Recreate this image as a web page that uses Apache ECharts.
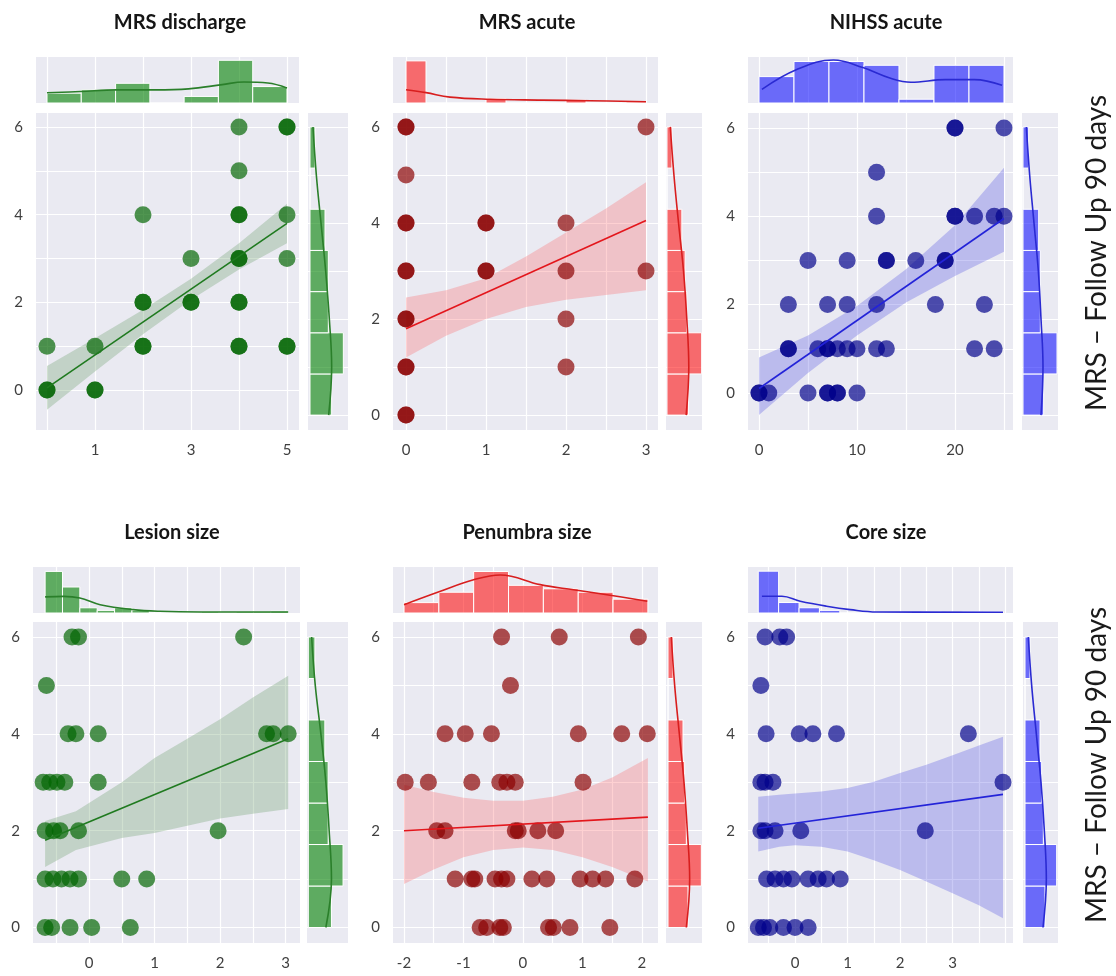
<!DOCTYPE html>
<html>
<head>
<meta charset="utf-8">
<script src="https://cdn.jsdelivr.net/npm/echarts@6/dist/echarts.min.js"></script>
<style>
  html, body { margin: 0; padding: 0; background: #ffffff; }
  #chart { width: 1116px; height: 976px; }
</style>
</head>
<body>
<div id="chart"></div>
<script>
// ---------- MRS follow-up (90 days) marginal bins, shared by every panel ----------
const followUpEdges = [0, 0.857, 1.714, 2.571, 3.429, 4.286, 5.143, 6];
const followUpKdeY = [6, 5, 4, 3, 2, 1, 0];
const yTickLabels = [0, 2, 4, 6];
const yGridValues = [0, 1, 2, 3, 4, 5, 6];

// ---------- MRS discharge ----------
const dischargeX = [0, 0, 0, 1, 1, 1, 2, 2, 2, 2, 2, 3, 3, 3, 4, 4, 4, 4, 4, 4, 4, 4, 4, 4, 5, 5, 5, 5, 5, 5];
const dischargeY = [1, 0, 0, 1, 0, 0, 4, 2, 2, 1, 1, 3, 2, 2, 6, 5, 4, 4, 3, 3, 2, 2, 1, 1, 6, 6, 4, 3, 1, 1];
const dischargeFitX = [0, 5];
const dischargeFitY = [0.05, 3.8];
const dischargeBandX = [0, 1, 2, 3, 4, 5];
const dischargeBandLow = [-0.45, 0.42, 1.27, 2.06, 2.75, 3.35];
const dischargeBandHigh = [0.55, 1.18, 1.83, 2.54, 3.35, 4.25];
const dischargeTopEdges = [0, 0.714, 1.429, 2.143, 2.857, 3.571, 4.286, 5];
const dischargeTopCounts = [3, 4, 6, 0, 2, 13, 5];
const dischargeTopKdeX = [0, 0.7, 1.45, 2.25, 2.95, 3.65, 4.1, 4.6, 5.0];
const dischargeTopKdeY = [3.1, 3.5, 4.0, 4.0, 4.3, 5.6, 6.4, 6.1, 4.6];
const dischargeSideCounts = [6.5, 10, 5.5, 5.5, 4.5, 0, 1.5];
const dischargeSideKdeX = [0.9, 1.9, 3.3, 4.7, 5.8, 6.5, 5.6];

// ---------- MRS acute ----------
const acuteX = [0, 0, 0, 0, 0, 0, 0, 0, 0, 0, 0, 0, 0, 1, 1, 1, 1, 2, 2, 2, 2, 3, 3];
const acuteY = [6, 6, 5, 4, 4, 3, 3, 2, 2, 1, 1, 0, 0, 4, 4, 3, 3, 4, 3, 2, 1, 6, 3];
const acuteFitX = [0, 3];
const acuteFitY = [1.8, 4.05];
const acuteBandX = [0, 0.5, 1, 1.5, 2, 2.5, 3];
const acuteBandLow = [1.2, 1.65, 2.0, 2.25, 2.4, 2.5, 2.6];
const acuteBandHigh = [2.45, 2.6, 2.85, 3.3, 3.8, 4.3, 4.85];
const acuteTopEdges = [0, 0.25, 0.5, 0.75, 1, 1.25, 1.5, 1.75, 2, 2.25, 2.5, 2.75, 3];
const acuteTopCounts = [13, 0, 0, 0, 1.4, 0, 0, 0, 0.9, 0, 0, 0.3];
const acuteTopKdeX = [0, 0.25, 0.55, 1.05, 1.7, 2.3, 3.0];
const acuteTopKdeY = [4.1, 3.2, 1.8, 1.15, 0.9, 0.7, 0.4];
const acuteSideCounts = [6.5, 10.5, 6, 5.5, 4.5, 0, 1.5];
const acuteSideKdeX = [1.0, 2.1, 3.5, 5.0, 6.0, 6.6, 5.8];

// ---------- NIHSS acute ----------
const nihssX = [20, 20, 25, 12, 12, 20, 20, 22, 24, 25, 5, 9, 13, 13, 16, 19, 19, 3, 7, 9, 12, 18, 23,
  3, 3, 6, 7, 7, 8, 9, 10, 12, 13, 22, 24, 0, 0, 1, 5, 7, 7, 8, 8, 10];
const nihssY = [6, 6, 6, 5, 4, 4, 4, 4, 4, 4, 3, 3, 3, 3, 3, 3, 3, 2, 2, 2, 2, 2, 2,
  1, 1, 1, 1, 1, 1, 1, 1, 1, 1, 1, 1, 0, 0, 0, 0, 0, 0, 0, 0, 0];
const nihssFitX = [0, 25];
const nihssFitY = [0.1, 3.95];
const nihssBandX = [0, 5, 10, 15, 20, 25];
const nihssBandLow = [-0.5, 0.45, 1.3, 2.05, 2.65, 3.2];
const nihssBandHigh = [0.8, 1.3, 1.97, 2.8, 3.8, 5.1];
const nihssTopEdges = [0, 3.571, 7.143, 10.714, 14.286, 17.857, 21.429, 25];
const nihssTopCounts = [7, 11, 11, 10, 1, 10, 10];
const nihssTopKdeX = [0.3, 3.8, 7.6, 10.6, 13.5, 15.5, 19, 22, 24.8];
const nihssTopKdeY = [3.6, 8.8, 11.4, 9.4, 6.5, 5.5, 6.2, 6.2, 4.7];
const nihssSideCounts = [6.2, 10.2, 5.2, 5.2, 4.7, 0, 1.7];
const nihssSideKdeX = [1.0, 2.0, 3.3, 4.6, 5.4, 6.0, 5.4];

// ---------- Lesion size ----------
const lesionX = [-0.26, -0.16, 2.36, -0.65, -0.32, -0.2, 0.14, 2.71, 2.81, 3.04,
  -0.7, -0.6, -0.49, -0.37, 0.14, -0.67, -0.54, -0.44, -0.16, 1.97,
  -0.67, -0.55, -0.42, -0.29, -0.16, 0.5, 0.88, -0.67, -0.57, -0.29, 0.04, 0.63];
const lesionY = [6, 6, 6, 5, 4, 4, 4, 4, 4, 4,
  3, 3, 3, 3, 3, 2, 2, 2, 2, 2,
  1, 1, 1, 1, 1, 1, 1, 0, 0, 0, 0, 0];
const lesionFitX = [-0.67, 3.04];
const lesionFitY = [1.8, 3.9];
const lesionBandX = [-0.67, -0.2, 0.5, 1.0, 1.5, 2.0, 2.5, 3.04];
const lesionBandLow = [1.25, 1.6, 1.85, 1.95, 2.1, 2.25, 2.35, 2.45];
const lesionBandHigh = [2.2, 2.4, 3.0, 3.5, 3.9, 4.3, 4.75, 5.2];
const lesionTopEdges = [-0.67, -0.405, -0.14, 0.125, 0.39, 0.655, 0.92, 1.185, 1.45, 1.715, 1.98, 2.245, 2.51, 2.775, 3.04];
const lesionTopCounts = [16, 10, 2, 1, 2, 1, 0, 0, 0, 0.5, 0, 0.5, 0.5, 0.7];
const lesionTopKdeX = [-0.67, -0.39, -0.14, 0.17, 0.67, 1.08, 1.7, 3.04];
const lesionTopKdeY = [6.2, 6.4, 5.8, 3.2, 1.3, 0.65, 0.4, 0.4];
const lesionSideCounts = [7, 10.5, 6, 6, 5, 0, 2];
const lesionSideKdeX = [1.0, 2.1, 3.8, 5.3, 6.3, 7.0, 5.3];

// ---------- Penumbra size ----------
const penumbraX = [-0.36, 0.61, 1.94, -0.21,
  -1.31, -0.97, -0.53, 0.93, 1.66, 2.09,
  -1.98, -1.59, -0.86, -0.39, -0.27, -0.13, 1.01,
  -1.45, -1.31, -0.13, -0.08, 0.25, 0.55,
  -1.14, -0.86, -0.81, -0.47, -0.36, -0.27, 0.15, 0.4, 0.96, 1.17, 1.39, 1.88,
  -0.72, -0.61, -0.39, -0.33, 0.43, 0.51, 0.79, 1.46];
const penumbraY = [6, 6, 6, 5,
  4, 4, 4, 4, 4, 4,
  3, 3, 3, 3, 3, 3, 3,
  2, 2, 2, 2, 2, 2,
  1, 1, 1, 1, 1, 1, 1, 1, 1, 1, 1, 1,
  0, 0, 0, 0, 0, 0, 0, 0];
const penumbraFitX = [-2.0, 2.1];
const penumbraFitY = [2.0, 2.28];
const penumbraBandX = [-2, -1.5, -1, -0.5, 0, 0.5, 1, 1.5, 2.1];
const penumbraBandLow = [0.9, 1.2, 1.45, 1.6, 1.65, 1.6, 1.45, 1.25, 0.95];
const penumbraBandHigh = [2.95, 2.8, 2.68, 2.62, 2.62, 2.7, 2.85, 3.1, 3.5];
const penumbraTopEdges = [-2.0, -1.414, -0.829, -0.243, 0.343, 0.929, 1.514, 2.1];
const penumbraTopCounts = [3, 6, 12, 8, 7, 6, 4];
const penumbraTopKdeX = [-2.0, -1.4, -0.83, -0.38, 0.29, 0.85, 1.41, 2.09];
const penumbraTopKdeY = [2.4, 6.2, 9.6, 11.0, 8.2, 6.7, 5.3, 3.4];
const penumbraSideCounts = [6, 10, 5.5, 5, 4.5, 0, 1.5];
const penumbraSideKdeX = [1.0, 2.0, 3.4, 4.8, 5.8, 6.5, 5.5];

// ---------- Core size ----------
const coreX = [-0.57, -0.29, -0.16, -0.65,
  -0.55, 0.08, 0.34, 0.79, 3.3,
  -0.65, -0.57, -0.42, 3.96,
  -0.65, -0.57, -0.38, 0.11, 2.48,
  -0.54, -0.38, -0.22, -0.06, 0.25, 0.44, 0.6, 0.86,
  -0.7, -0.6, -0.48, -0.22, 0, 0.25];
const coreY = [6, 6, 6, 5,
  4, 4, 4, 4, 4,
  3, 3, 3, 3,
  2, 2, 2, 2, 2,
  1, 1, 1, 1, 1, 1, 1, 1,
  0, 0, 0, 0, 0, 0];
const coreFitX = [-0.7, 3.96];
const coreFitY = [2.05, 2.75];
const coreBandX = [-0.7, -0.3, 0, 0.5, 1, 1.5, 2, 2.5, 3, 3.5, 3.96];
const coreBandLow = [1.57, 1.67, 1.7, 1.67, 1.57, 1.39, 1.19, 0.95, 0.71, 0.46, 0.19];
const coreBandHigh = [2.7, 2.74, 2.77, 2.81, 2.88, 3.01, 3.19, 3.36, 3.56, 3.76, 3.94];
const coreTopEdges = [-0.7, -0.312, 0.077, 0.465, 0.853, 1.242, 1.63, 2.018, 2.407, 2.795, 3.183, 3.572, 3.96];
const coreTopCounts = [16, 4, 2, 1, 0, 0, 0, 0, 0.6, 0, 0.6, 0.6];
const coreTopKdeX = [-0.63, -0.25, 0.1, 0.6, 1.05, 1.56, 3.96];
const coreTopKdeY = [6.4, 6.4, 4.5, 2.6, 1.3, 0.4, 0.3];
const coreSideCounts = [6, 9.5, 5.5, 5, 4.5, 0, 1.5];
const coreSideKdeX = [1.0, 2.0, 3.4, 4.8, 5.8, 6.4, 5.4];

// ---------- colour families ----------
const GREEN = { dot: 'rgba(0,100,0,0.86)', fit: '#1f7a1f', band: 'rgba(110,160,110,0.32)', bar: 'rgba(0,128,0,0.6)', kde: '#2a7f2a' };
const RED = { dot: 'rgba(139,0,0,0.86)', fit: '#e3161c', band: 'rgba(250,90,95,0.28)', bar: 'rgba(255,0,0,0.55)', kde: '#d81e1e' };
const BLUE = { dot: 'rgba(0,0,139,0.86)', fit: '#2323d8', band: 'rgba(80,80,225,0.3)', bar: 'rgba(0,0,255,0.55)', kde: '#2a2ad2' };
const BG = '#eaeaf2';
const FONT = 'Lato, "Open Sans", sans-serif';

const pairs = (xs, ys) => xs.map((x, i) => [x, ys[i]]);
const binItems = (edges, counts) => counts.map((c, i) => [edges[i], edges[i + 1], c]);

const panels = [
  { title: 'MRS discharge', c: GREEN, xs: dischargeX, ys: dischargeY, fx: dischargeFitX, fy: dischargeFitY,
    bx: dischargeBandX, lo: dischargeBandLow, hi: dischargeBandHigh, te: dischargeTopEdges, tc: dischargeTopCounts,
    kx: dischargeTopKdeX, ky: dischargeTopKdeY, sc: dischargeSideCounts, sk: dischargeSideKdeX,
    main: [36, 113, 263, 317], top: [36, 57, 263, 46], side: [308, 113, 40, 317],
    xr: [-0.229, 5.25], yr: [-0.913, 6.32], sy: [-0.31, 6.29], sx: [-0.6, 11.4], tmax: 14,
    xg: [0, 1, 2, 3, 4, 5], xl: [1, 3, 5], tx: 175, ty: 8 },
  { title: 'MRS acute', c: RED, xs: acuteX, ys: acuteY, fx: acuteFitX, fy: acuteFitY,
    bx: acuteBandX, lo: acuteBandLow, hi: acuteBandHigh, te: acuteTopEdges, tc: acuteTopCounts,
    kx: acuteTopKdeX, ky: acuteTopKdeY, sc: acuteSideCounts, sk: acuteSideKdeX,
    main: [393, 113, 265, 317], top: [393, 57, 265, 46], side: [666, 113, 36, 317],
    xr: [-0.1625, 3.15], yr: [-0.31, 6.29], sy: [-0.31, 6.29], sx: [-0.3, 10.6], tmax: 14.2,
    xg: [0, 0.5, 1, 1.5, 2, 2.5, 3], xl: [0, 1, 2, 3], tx: 522, ty: 8 },
  { title: 'NIHSS acute', c: BLUE, xs: nihssX, ys: nihssY, fx: nihssFitX, fy: nihssFitY,
    bx: nihssBandX, lo: nihssBandLow, hi: nihssBandHigh, te: nihssTopEdges, tc: nihssTopCounts,
    kx: nihssTopKdeX, ky: nihssTopKdeY, sc: nihssSideCounts, sk: nihssSideKdeX,
    main: [748, 113, 265, 317], top: [748, 57, 265, 46], side: [1022, 113, 36, 317],
    xr: [-1.12, 25.92], yr: [-0.84, 6.34], sy: [-0.31, 6.29], sx: [-0.3, 10.5], tmax: 12.2,
    xg: [0, 5, 10, 15, 20, 25], xl: [0, 10, 20], tx: 881, ty: 8 },
  { title: 'Lesion size', c: GREEN, xs: lesionX, ys: lesionY, fx: lesionFitX, fy: lesionFitY,
    bx: lesionBandX, lo: lesionBandLow, hi: lesionBandHigh, te: lesionTopEdges, tc: lesionTopCounts,
    kx: lesionTopKdeX, ky: lesionTopKdeY, sc: lesionSideCounts, sk: lesionSideKdeX,
    main: [33, 622, 267, 321], top: [33, 567, 267, 46], side: [307, 622, 41, 321],
    xr: [-0.855, 3.22], yr: [-0.32, 6.31], sy: [-0.32, 6.31], sx: [-0.4, 12], tmax: 17.7,
    xg: [-0.5, 0, 0.5, 1, 1.5, 2, 2.5, 3], xl: [0, 1, 2, 3], tx: 167, ty: 518 },
  { title: 'Penumbra size', c: RED, xs: penumbraX, ys: penumbraY, fx: penumbraFitX, fy: penumbraFitY,
    bx: penumbraBandX, lo: penumbraBandLow, hi: penumbraBandHigh, te: penumbraTopEdges, tc: penumbraTopCounts,
    kx: penumbraTopKdeX, ky: penumbraTopKdeY, sc: penumbraSideCounts, sk: penumbraSideKdeX,
    main: [393, 622, 265, 321], top: [393, 567, 265, 46], side: [666, 622, 36, 321],
    xr: [-2.185, 2.27], yr: [-0.32, 6.31], sy: [-0.32, 6.31], sx: [-0.6, 10.2], tmax: 13.3,
    xg: [-2, -1.5, -1, -0.5, 0, 0.5, 1, 1.5, 2], xl: [-2, -1, 0, 1, 2], tx: 522, ty: 518 },
  { title: 'Core size', c: BLUE, xs: coreX, ys: coreY, fx: coreFitX, fy: coreFitY,
    bx: coreBandX, lo: coreBandLow, hi: coreBandHigh, te: coreTopEdges, tc: coreTopCounts,
    kx: coreTopKdeX, ky: coreTopKdeY, sc: coreSideCounts, sk: coreSideKdeX,
    main: [748, 622, 265, 321], top: [748, 567, 265, 46], side: [1023, 622, 35, 321],
    xr: [-0.895, 4.15], yr: [-0.32, 6.31], sy: [-0.32, 6.31], sx: [-0.6, 9.9], tmax: 17.6,
    xg: [-0.5, 0, 0.5, 1, 1.5, 2, 2.5, 3, 3.5, 4], xl: [0, 1, 2, 3], tx: 881, ty: 518 }
];

const grids = [], xAxes = [], yAxes = [], series = [], titles = [];
const gridLine = { show: true, lineStyle: { color: '#ffffff', width: 1.2 } };
const tickLabel = { color: '#404040', fontSize: 15, fontFamily: FONT };

function rectGrid(r) {
  return { left: r[0], top: r[1], width: r[2], height: r[3], show: true, backgroundColor: BG,
           borderWidth: 0, containLabel: false, outerBoundsMode: 'none' };
}

panels.forEach(p => {
  const g = grids.length;
  grids.push(rectGrid(p.main), rectGrid(p.top), rectGrid(p.side));

  // main scatter axes
  xAxes.push({ gridIndex: g, type: 'value', min: p.xr[0], max: p.xr[1],
    axisLine: { show: false }, axisTick: { show: false, customValues: p.xg },
    axisLabel: Object.assign({ customValues: p.xl, margin: 13 }, tickLabel), splitLine: gridLine });
  yAxes.push({ gridIndex: g, type: 'value', min: p.yr[0], max: p.yr[1],
    axisLine: { show: false }, axisTick: { show: false, customValues: yGridValues },
    axisLabel: Object.assign({ customValues: yTickLabels, margin: 13 }, tickLabel), splitLine: gridLine });
  // top marginal axes
  xAxes.push({ gridIndex: g + 1, type: 'value', min: p.xr[0], max: p.xr[1],
    axisLine: { show: false }, axisTick: { show: false, customValues: p.xg },
    axisLabel: { show: false }, splitLine: gridLine });
  yAxes.push({ gridIndex: g + 1, type: 'value', min: 0, max: p.tmax,
    axisLine: { show: false }, axisTick: { show: false }, axisLabel: { show: false }, splitLine: { show: false } });
  // side marginal axes
  xAxes.push({ gridIndex: g + 2, type: 'value', min: p.sx[0], max: p.sx[1],
    axisLine: { show: false }, axisTick: { show: false }, axisLabel: { show: false }, splitLine: { show: false } });
  yAxes.push({ gridIndex: g + 2, type: 'value', min: p.sy[0], max: p.sy[1],
    axisLine: { show: false }, axisTick: { show: false, customValues: yGridValues },
    axisLabel: { show: false }, splitLine: { show: true, lineStyle: { color: '#ffffff', width: 1 } } });

  // confidence band of the regression line
  series.push({ type: 'custom', xAxisIndex: g, yAxisIndex: g, data: [[p.bx[0], p.lo[0]]], z: 2, silent: true,
    renderItem: (params, api) => {
      const pts = p.bx.map((x, i) => api.coord([x, p.hi[i]]));
      for (let i = p.bx.length - 1; i >= 0; i--) pts.push(api.coord([p.bx[i], p.lo[i]]));
      return { type: 'polygon', shape: { points: pts }, style: { fill: p.c.band } };
    } });
  // observations
  series.push({ type: 'scatter', xAxisIndex: g, yAxisIndex: g, data: pairs(p.xs, p.ys), symbolSize: 17, z: 3,
    itemStyle: { color: p.c.dot, borderWidth: 0 }, silent: true });
  // regression line
  series.push({ type: 'line', xAxisIndex: g, yAxisIndex: g, data: pairs(p.fx, p.fy), symbol: 'none', z: 4,
    lineStyle: { color: p.c.fit, width: 1.6 }, silent: true });

  // top histogram
  series.push({ type: 'custom', xAxisIndex: g + 1, yAxisIndex: g + 1, data: binItems(p.te, p.tc), z: 2, silent: true,
    renderItem: (params, api) => {
      const a = api.coord([api.value(0), 0]);
      const b = api.coord([api.value(1), api.value(2)]);
      return { type: 'rect', shape: { x: a[0], y: b[1], width: b[0] - a[0], height: a[1] - b[1] },
               style: { fill: p.c.bar, stroke: '#ffffff', lineWidth: 1 } };
    } });
  series.push({ type: 'line', xAxisIndex: g + 1, yAxisIndex: g + 1, data: pairs(p.kx, p.ky), symbol: 'none',
    smooth: 0.4, z: 3, lineStyle: { color: p.c.kde, width: 1.6 }, silent: true });

  // side histogram (MRS follow-up)
  series.push({ type: 'custom', xAxisIndex: g + 2, yAxisIndex: g + 2, data: binItems(followUpEdges, p.sc), z: 2, silent: true,
    renderItem: (params, api) => {
      const a = api.coord([0, api.value(0)]);
      const b = api.coord([api.value(2), api.value(1)]);
      return { type: 'rect', shape: { x: a[0], y: b[1], width: b[0] - a[0], height: a[1] - b[1] },
               style: { fill: p.c.bar, stroke: '#ffffff', lineWidth: 1 } };
    } });
  series.push({ type: 'line', xAxisIndex: g + 2, yAxisIndex: g + 2, data: pairs(p.sk, followUpKdeY), symbol: 'none',
    smooth: 0.4, z: 3, lineStyle: { color: p.c.kde, width: 1.6 }, silent: true });

  titles.push({ text: p.title, left: p.tx, top: p.ty, textAlign: 'center',
    textStyle: { fontFamily: FONT, fontWeight: 'bold', fontSize: 20, color: '#151515' } });
});

const chart = echarts.init(document.getElementById('chart'), null, { renderer: 'canvas' });
chart.setOption({
  animation: false,
  backgroundColor: '#ffffff',
  title: titles,
  grid: grids,
  xAxis: xAxes,
  yAxis: yAxes,
  series: series,
  graphic: [
    { type: 'text', x: 1097, y: 253, rotation: Math.PI / 2,
      style: { text: 'MRS \u2013 Follow Up 90 days', font: '28px ' + FONT, fill: '#1a1a1a', align: 'center', verticalAlign: 'middle' } },
    { type: 'text', x: 1097, y: 765, rotation: Math.PI / 2,
      style: { text: 'MRS \u2013 Follow Up 90 days', font: '28px ' + FONT, fill: '#1a1a1a', align: 'center', verticalAlign: 'middle' } }
  ]
});
</script>
</body>
</html>
